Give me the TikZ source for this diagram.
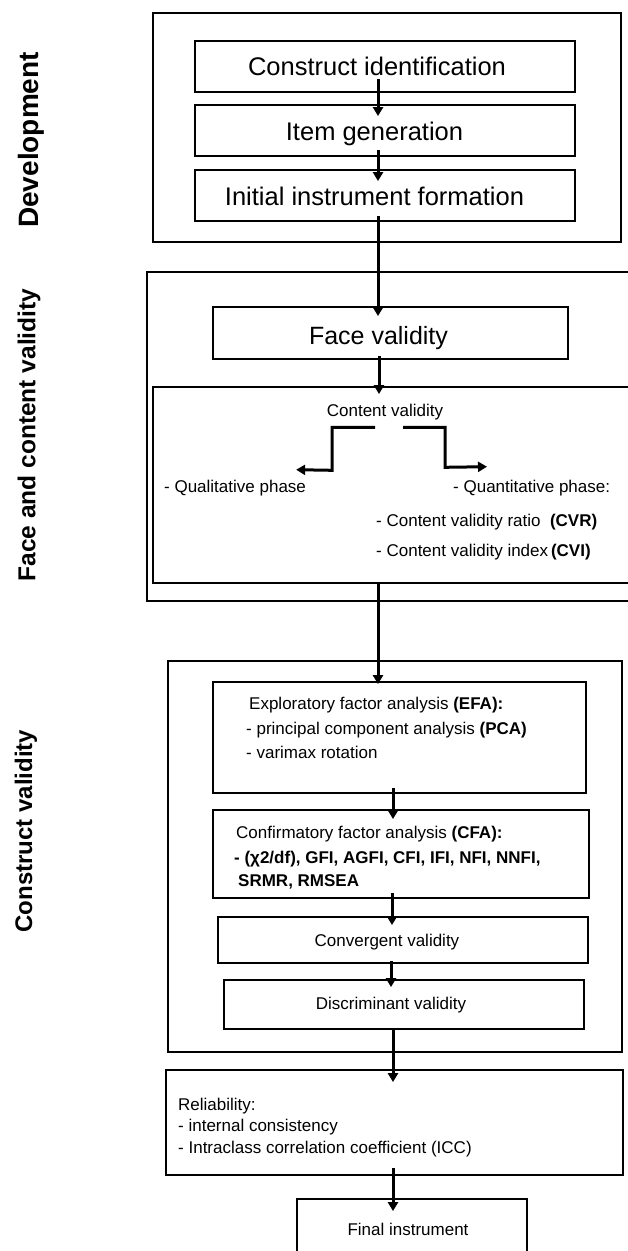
\documentclass[tikz,border=0pt]{standalone}
\usepackage{fontspec}
\setmainfont{Liberation Sans}
\usetikzlibrary{arrows.meta,calc}
\begin{document}
\begin{tikzpicture}[x=1pt,y=-1pt,
  bx/.style n args={2}{draw, line width=1.8pt, inner sep=0pt, minimum width=#1pt, minimum height=#2pt},
  arr/.style={line width=3pt, -{Triangle[width=10pt,length=9pt]}},
  elb/.style={line width=3pt, -{Triangle[width=10pt,length=9pt]}},
  tbig/.style={inner sep=0pt, font=\fontsize{25.5}{30}\selectfont, text height=18.3pt, text depth=0pt},
  tmed/.style={inner sep=0pt, font=\fontsize{25}{30}\selectfont, text height=17.9pt, text depth=0pt},
  tsm/.style={inner sep=0pt, font=\fontsize{17}{20}\selectfont, text height=12.2pt, text depth=0pt},
  tl/.style={tsm, anchor=west},
  side/.style={rotate=90, inner sep=0pt, font=\bfseries\fontsize{#1}{30}\selectfont}
]
\useasboundingbox (0,0) rectangle (628,1251);
\clip (0,0) rectangle (628,1251);
\fill[white] (0,0) rectangle (628,1251);

% side labels
\node[side=28] (ldev) at (31,140) {Development};
\node[side=24.5] (lface) at (29,435) {Face and content validity};
\node[side=24] (lcons) at (26,831) {Construct validity};

% Development
\node[bx={468}{229}] (dev) at (387,127.5) {};
\node[bx={380}{51}] (ci) at (385,66.5) {};
\node[bx={380}{51}] (ig) at (385,130.5) {};
\node[bx={380}{51}] (iif) at (385,195.5) {};
\node[tbig] (tci) at (377,66) {Construct identification};
\node[tbig] (tig) at (374.5,131) {Item generation};
\node[tbig] (tiif) at (374.5,196) {Initial instrument formation};

% Face and content validity
\node[bx={493}{329}] (fc) at (393.5,436.5) {};
\node[bx={355}{52}] (fv) at (390.5,333) {};
\node[tmed] (tfv) at (378.5,336) {Face validity};
\node[bx={487}{196}] (cv) at (396.5,485) {};
\node[tsm] (cvt) at (385,410) {Content validity};
\node[tl] (qual) at (164,486) {- Qualitative phase};
\node[tl] (quant) at (453,486) {- Quantitative phase:};
\node[tl] (cvr) at (376,520) {- Content validity ratio\ \ \textbf{(CVR)}};
\node[tl] (cvi) at (376,550) {- Content validity index\,\textbf{(CVI)}};

% Construct validity
\node[bx={454}{391}] (cons) at (395,856.5) {};
\node[bx={373}{111}] (efa) at (399.5,737.5) {};
\node[tl] (efa1) at (249,703) {Exploratory factor analysis \textbf{(EFA):}};
\node[tl] (efa2) at (246,728) {- principal component analysis \textbf{(PCA)}};
\node[tl] (efa3) at (246,752) {- varimax rotation};
\node[bx={376}{88}] (cfa) at (401,854) {};
\node[tl] (cfa1) at (236,832) {Confirmatory factor analysis \textbf{(CFA):}};
\node[tl] (cfa2) at (234,857) {\textbf{- (χ2/df), GFI, AGFI, CFI, IFI, NFI, NNFI,}};
\node[tl] (cfa3) at (238,880) {\textbf{SRMR, RMSEA}};
\node[bx={370}{46}] (conv) at (403,940) {};
\node[tsm] (tconv) at (387,940) {Convergent validity};
\node[bx={360}{49}] (disc) at (404,1004.5) {};
\node[tsm] (tdisc) at (391,1003) {Discriminant validity};

% Reliability
\node[bx={457}{105}] (rel) at (394.5,1122.5) {};
\node[tl] (rel1) at (178,1104) {Reliability:};
\node[tl] (rel2) at (178,1125) {- internal consistency};
\node[tl] (rel3) at (178,1147) {- Intraclass correlation coefficient (ICC)};

% Final
\node[bx={230}{71}] (fin) at (412,1234.5) {};
\node[tsm] (tfin) at (408,1229) {Final instrument};

% arrows
\draw[arr] ($(ci.south)+(-7,-14)$) -- ($(ig.north)+(-7,12)$);
\draw[arr] ($(ig.south)+(-7,-7)$) -- ($(iif.north)+(-7,12)$);
\draw[arr] ($(iif.south)+(-7,-6)$) -- ($(fv.north)+(-12.5,10)$);
\draw[arr] ($(fv.south)+(-11.5,-4)$) -- ($(cv.north)+(-17.5,8)$);
\draw[arr] ($(cv.south)+(-18.5,0)$) -- ($(efa.north)+(-21.5,3)$);
\draw[arr] ($(efa.south)+(-6.5,-6)$) -- ($(cfa.north)+(-8,10)$);
\draw[arr] ($(cfa.south)+(-9,-6)$) -- ($(conv.north)+(-11,9)$);
\draw[arr] ($(conv.south)+(-12,-3)$) -- ($(disc.north)+(-13,8)$);
\draw[arr] ($(disc.south)+(-11,-1)$) -- ($(rel.north)+(-1.5,13)$);
\draw[arr] ($(rel.south)+(-1.5,-8)$) -- ($(fin.north)+(-19,13)$);

% content validity branches
\draw[elb] ($(cvt.south)+(-10,11)$) -- ++(-43,0) -- ++(0,43) -- ($(qual.north east)+(-10,-10)$);
\draw[elb] ($(cvt.south)+(18,11)$) -- ++(42,0) -- ++(0,40) -- ($(quant.north west)+(34,-13)$);
\end{tikzpicture}
\end{document}
